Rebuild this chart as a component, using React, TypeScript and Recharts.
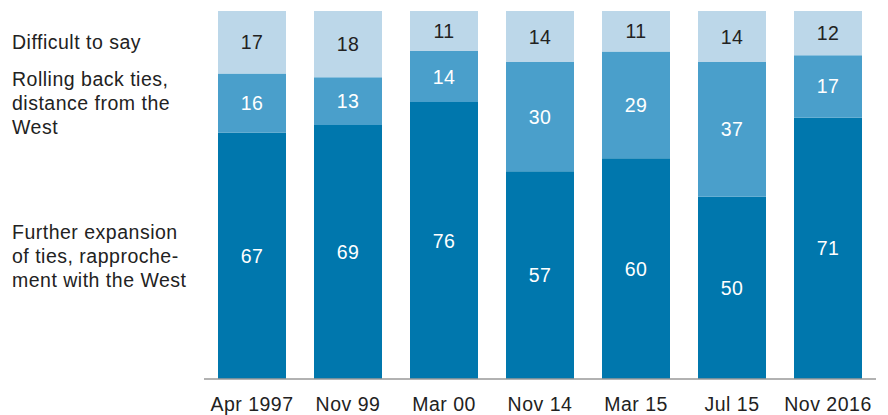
import React from 'react';
import { BarChart, Bar, XAxis, YAxis, LabelList } from 'recharts';

const categories = ['Apr 1997', 'Nov 99', 'Mar 00', 'Nov 14', 'Mar 15', 'Jul 15', 'Nov 2016'];
const further = [67, 69, 76, 57, 60, 50, 71];
const rolling = [16, 13, 14, 30, 29, 37, 17];
const difficult = [17, 18, 11, 14, 11, 14, 12];

const furtherName = ['Further expansion', 'of ties, rapproche-', 'ment with the West'];
const rollingName = ['Rolling back ties,', 'distance from the', 'West'];
const difficultName = ['Difficult to say'];

const data = categories.map((name, i) => ({
  name,
  further: further[i],
  rolling: rolling[i],
  difficult: difficult[i],
}));

const FONT = '"Liberation Sans", Arial, Helvetica, sans-serif';
const FS = 19.5;
const LS = 0.5;
const TEXT = '#222222';

const makeValueLabel = (values: number[], color: string) => (props: any) => {
  const { x, y, width, height, index } = props;
  const cx = Number(x) + Number(width) / 2;
  const cy = Number(y) + Number(height) / 2;
  return (
    <text
      x={cx}
      y={cy + 7}
      textAnchor="middle"
      fill={color}
      style={{ fontFamily: FONT, fontSize: FS, letterSpacing: LS }}
    >
      {values[index]}
    </text>
  );
};

const makeNameLabel = (lines: string[]) => (props: any) => {
  const { y, height, index } = props;
  if (index !== 0) return null;
  const cy = Number(y) + Number(height) / 2;
  const n = lines.length;
  return (
    <g>
      {lines.map((ln, k) => (
        <text
          key={k}
          x={12}
          y={cy + (k - (n - 1) / 2) * 24 + 7}
          textAnchor="start"
          fill={TEXT}
          style={{ fontFamily: FONT, fontSize: FS, letterSpacing: LS }}
        >
          {ln}
        </text>
      ))}
    </g>
  );
};

export default function App() {
  return (
    <div style={{ width: 888, height: 415, fontFamily: FONT }}>
      <style>{'body{margin:0}'}</style>
      <BarChart
        width={888}
        height={415}
        data={data}
        stackOffset="expand"
        margin={{ top: 11, right: 12, bottom: 0, left: 204 }}
        barSize={68}
      >
        <XAxis
          dataKey="name"
          height={36}
          tickLine={false}
          tickSize={0}
          tickMargin={18}
          axisLine={{ stroke: '#999999', strokeWidth: 1.5 }}
          interval={0}
          tick={{ fill: TEXT, fontSize: FS, fontFamily: FONT, letterSpacing: LS } as any}
        />
        <YAxis hide />
        <Bar dataKey="further" stackId="a" fill="#0077AD" isAnimationActive={false}>
          <LabelList content={makeValueLabel(further, '#ffffff')} />
          <LabelList content={makeNameLabel(furtherName)} />
        </Bar>
        <Bar dataKey="rolling" stackId="a" fill="#4A9FCB" isAnimationActive={false}>
          <LabelList content={makeValueLabel(rolling, '#ffffff')} />
          <LabelList content={makeNameLabel(rollingName)} />
        </Bar>
        <Bar dataKey="difficult" stackId="a" fill="#BCD7E9" isAnimationActive={false}>
          <LabelList content={makeValueLabel(difficult, TEXT)} />
          <LabelList content={makeNameLabel(difficultName)} />
        </Bar>
      </BarChart>
    </div>
  );
}
